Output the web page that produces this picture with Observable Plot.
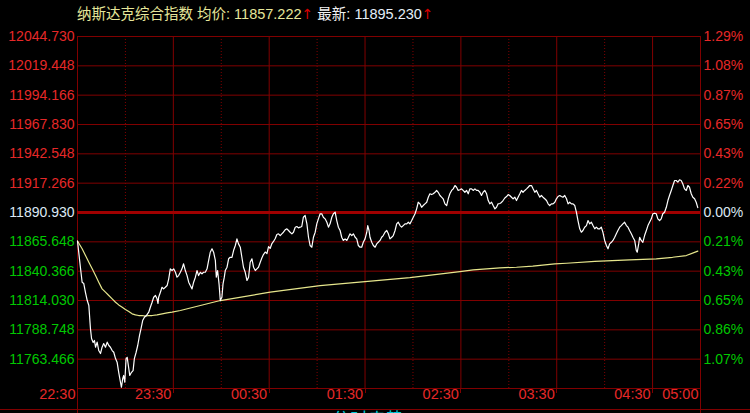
<!DOCTYPE html>
<html>
<head>
<meta charset="utf-8">
<script src="https://cdn.jsdelivr.net/npm/d3@7"></script>
<script src="https://cdn.jsdelivr.net/npm/@observablehq/plot@0.6"></script>
<style>
html,body{margin:0;padding:0;background:#000;}
#wrap{position:relative;width:750px;height:413px;overflow:hidden;background:#000;}
#title{position:absolute;left:77px;top:4px;font-family:"Liberation Sans","Noto Sans CJK SC",sans-serif;font-size:14.5px;line-height:20px;white-space:nowrap;}
#title .arr{font-family:"DejaVu Sans";font-size:14px;color:#d80000;}
#foot{position:absolute;left:332px;top:407px;color:#00c8d8;font-family:"Noto Sans CJK SC";font-size:18px;line-height:22px;white-space:nowrap;}
</style>
</head>
<body>
<div id="wrap">
  <div id="chart"></div>
  <div id="title"></div>
  <div id="foot"></div>
</div>
<script>
// ---------- data ----------
const indexName = "纳斯达克综合指数";
const avgLabel = "均价";
const lastLabel = "最新";
const avgValue = "11857.222";
const lastValue = "11895.230";
const footText = "分时走势";

const prevClose = 11890.930;
const topPrice = 12044.730;

const leftLabels = ["12044.730","12019.448","11994.166","11967.830","11942.548","11917.266",
  "11890.930","11865.648","11840.366","11814.030","11788.748","11763.466"];
const rightLabels = ["1.29%","1.08%","0.87%","0.65%","0.43%","0.22%",
  "0.00%","0.21%","0.43%","0.65%","0.86%","1.07%"];

// minutes after 22:30
const timeTicks = [0, 60, 120, 180, 240, 300, 360, 390];
const timeLabels = ["22:30","23:30","00:30","01:30","02:30","03:30","04:30","05:00"];
const hourDots = [30, 90, 150, 210, 270, 330];

const priceMinutes = [
0,1.9,2.9,3.9,5.0,6.1,7.1,8.1,8.8,9.8,
10.6,11.3,12.3,13.3,14.4,15.4,16.4,17.5,18.6,19.6,
20.6,21.7,22.7,23.8,24.8,25.8,26.9,27.5,28.3,28.9,
29.6,30.4,31.1,32.1,32.7,33.8,34.8,35.6,36.7,37.7,
38.8,39.8,40.8,41.9,43.1,44.6,45.6,46.7,47.7,48.8,
49.8,50.4,50.8,51.9,52.9,53.9,55.0,56.1,57.1,58.1,
59.2,60.2,61.3,62.3,63.3,64.4,65.4,66.4,67.5,68.6,
69.6,70.6,71.7,72.7,73.8,74.8,75.8,76.9,77.9,78.9,
80.0,81.1,82.1,83.1,84.2,85.2,86.3,86.9,87.7,88.6,
89.4,90.4,91.1,91.9,92.5,93.6,94.6,95.6,96.7,97.7,
98.8,99.8,100.8,101.9,102.9,103.9,105.0,106.1,107.1,108.1,
109.2,110.2,111.3,112.3,113.3,114.4,115.4,116.4,117.5,118.6,
119.6,120.6,121.7,122.7,123.8,124.8,125.8,126.9,127.9,128.9,
130.0,131.1,132.1,133.1,134.2,135.2,136.3,137.3,138.3,139.4,
140.4,141.4,142.5,143.6,144.6,145.6,146.7,147.7,148.8,149.8,
150.8,151.9,152.9,153.9,155.0,156.1,157.1,158.1,159.2,160.2,
161.3,162.3,163.3,164.4,165.4,166.4,167.5,168.6,169.6,170.6,
171.7,172.7,173.8,174.8,175.8,176.9,177.9,178.9,180.0,181.1,
181.7,182.5,183.1,184.2,185.2,186.3,187.3,188.3,189.4,190.4,
191.4,192.5,193.6,194.6,195.6,196.7,197.7,198.8,199.8,200.8,
201.9,202.9,203.9,205.0,206.1,207.1,208.1,209.2,210.2,211.3,
212.3,213.3,214.4,215.4,216.4,217.5,218.6,219.6,220.6,221.7,
222.7,223.8,224.8,225.8,226.9,227.9,228.9,230.0,231.1,232.1,
233.1,234.2,235.2,236.3,237.3,238.3,239.4,240.4,241.4,242.5,
243.6,244.6,245.6,246.7,247.7,248.8,249.8,250.8,251.9,252.9,
253.9,255.0,256.1,257.1,258.1,259.2,260.2,261.3,262.3,263.3,
264.4,265.4,266.4,267.5,268.6,269.6,270.6,271.7,272.7,273.8,
274.8,275.8,276.9,277.9,278.9,280.0,281.1,282.1,283.1,284.2,
285.2,286.3,287.3,288.3,289.4,290.4,291.4,292.5,293.6,294.6,
295.6,296.7,297.7,298.8,299.8,300.8,301.9,302.9,303.9,305.0,
306.1,307.1,308.1,309.2,310.2,311.3,312.3,313.3,314.4,315.4,
316.4,317.5,318.6,319.6,320.6,321.7,322.7,323.8,324.8,325.8,
326.9,327.9,328.9,330.0,331.1,332.1,333.1,334.2,335.2,336.3,
337.3,338.3,339.4,340.4,341.4,342.5,343.6,344.6,345.6,346.7,
347.7,348.8,349.8,350.4,351.3,351.9,352.9,353.9,355.0,356.1,
357.1,358.1,359.2,360.2,361.3,362.3,363.3,364.4,365.4,366.4,
367.5,368.6,369.6,370.6,371.7,372.7,373.8,374.8,375.8,376.9,
377.9,378.9,380.0,381.1,382.1,383.1,384.2,385.2,386.3,387.3,388.3];

const priceValues = [
11866.0,11842.0,11830.0,11828.9,11821.0,11814.0,11809.7,11789.6,11780.8,11777.3,
11779.1,11773.2,11777.6,11770.3,11767.7,11773.2,11776.4,11773.2,11777.6,11774.7,
11773.2,11770.3,11768.8,11763.3,11760.1,11751.3,11742.6,11738.2,11745.8,11748.5,
11742.6,11763.3,11764.4,11754.6,11748.5,11751.3,11752.8,11763.3,11768.8,11774.7,
11783.4,11789.6,11796.5,11799.4,11800.9,11803.8,11808.1,11812.5,11816.9,11818.4,
11815.5,11811.4,11816.9,11821.3,11825.6,11824.2,11825.6,11827.1,11833.0,11841.7,
11840.2,11841.7,11838.7,11834.4,11835.8,11838.7,11841.7,11846.1,11840.2,11835.8,
11830.0,11827.1,11824.2,11830.0,11834.4,11840.2,11835.8,11838.7,11837.3,11838.7,
11838.7,11841.7,11849.0,11856.2,11859.2,11856.2,11849.0,11834.4,11840.2,11828.6,
11814.0,11816.9,11828.6,11834.4,11840.2,11843.1,11850.5,11851.8,11851.8,11857.7,
11862.1,11867.9,11863.5,11860.6,11851.8,11843.1,11838.7,11831.5,11834.4,11847.5,
11850.5,11843.1,11840.2,11841.7,11843.1,11847.5,11851.1,11854.2,11856.4,11855.1,
11861.2,11859.5,11863.8,11865.6,11868.2,11871.7,11872.3,11870.8,11872.3,11873.7,
11875.8,11876.7,11875.2,11873.7,11872.3,11873.7,11878.1,11878.7,11877.5,11878.1,
11878.7,11886.8,11888.3,11881.0,11869.3,11862.1,11860.6,11869.3,11873.7,11881.0,
11885.4,11889.8,11889.8,11886.8,11885.4,11882.4,11878.1,11881.0,11886.8,11889.8,
11891.2,11883.9,11878.1,11875.2,11869.3,11866.5,11867.9,11866.5,11869.3,11872.3,
11870.8,11872.3,11869.3,11867.9,11862.1,11860.6,11860.6,11864.9,11867.9,11873.7,
11879.5,11875.2,11869.3,11864.9,11862.1,11860.6,11863.5,11864.9,11866.5,11869.3,
11870.8,11873.7,11875.2,11872.3,11867.9,11869.3,11870.8,11875.2,11881.0,11882.4,
11879.5,11878.1,11879.5,11881.0,11881.0,11882.4,11881.0,11883.9,11886.8,11889.8,
11894.1,11899.9,11898.5,11895.5,11897.0,11898.5,11899.9,11904.3,11907.3,11906.6,
11907.3,11908.6,11910.2,11908.6,11905.8,11904.3,11902.9,11898.5,11897.0,11902.9,
11907.3,11910.2,11911.6,11914.5,11913.0,11910.2,11910.8,11911.6,11910.2,11908.6,
11910.2,11907.3,11911.6,11911.6,11910.2,11911.6,11910.2,11910.2,11908.6,11905.8,
11908.6,11910.2,11907.3,11901.4,11898.5,11899.9,11897.0,11894.1,11895.5,11898.5,
11898.8,11899.7,11901.4,11903.6,11904.9,11906.6,11905.8,11904.3,11902.9,11904.3,
11901.4,11904.3,11907.3,11910.2,11908.6,11910.2,11911.6,11913.0,11914.5,11914.5,
11911.6,11908.6,11910.2,11907.3,11904.3,11905.8,11904.3,11902.9,11901.4,11898.5,
11897.0,11898.5,11898.5,11899.9,11902.9,11904.9,11905.8,11904.9,11904.3,11905.8,
11902.9,11898.5,11899.9,11898.5,11898.5,11897.0,11891.2,11883.9,11876.7,11873.7,
11875.2,11878.1,11879.5,11883.9,11881.0,11882.4,11879.5,11876.7,11878.1,11876.7,
11876.7,11878.1,11873.7,11866.5,11862.1,11859.2,11863.5,11864.9,11866.5,11869.3,
11872.3,11875.2,11878.1,11879.5,11881.0,11882.4,11879.5,11878.1,11875.2,11872.3,
11869.3,11866.5,11857.7,11856.2,11863.5,11869.3,11866.5,11864.9,11870.8,11875.2,
11879.5,11882.4,11885.4,11889.8,11890.3,11889.8,11885.4,11883.9,11885.4,11889.8,
11891.2,11895.5,11901.4,11905.8,11910.2,11914.5,11918.9,11918.9,11917.4,11919.5,
11918.9,11916.0,11911.6,11910.2,11914.5,11913.0,11907.3,11904.3,11902.9,11899.9,11895.23];

const avgMinutes = [0,2.9,5.0,7.1,9.2,11.3,13.3,15.4,17.5,19.6,21.7,23.8,25.8,28.0,30.0,
  32.1,34.2,36.3,38.3,40.4,42.5,44.6,46.7,49.8,53.0,56.1,59.2,64.4,89.4,120.6,151.9,
  180.0,208.1,239.4,247.7,264.4,274.8,285.0,298.8,306.1,323.8,345.6,362.3,372.5,381.1,388.3];
const avgValues = [11866.0,11859.2,11853.3,11847.5,11841.7,11835.8,11830.0,11824.2,11821.3,
  11818.4,11815.5,11812.5,11810.2,11808.1,11806.1,11804.4,11802.4,11801.5,11800.9,11800.9,
  11800.3,11800.9,11800.9,11801.5,11802.4,11803.2,11803.8,11805.3,11814.0,11821.3,11827.1,
  11830.6,11834.1,11839.3,11840.8,11842.6,11843.1,11844.0,11846.1,11846.6,11848.3,11849.6,
  11850.4,11851.8,11853.3,11857.22];

// ---------- styles ----------
const gridColor = "#800000";
const baseColor = "#a00000";
const upColor = "#e62828";
const downColor = "#00c800";
const flatColor = "#dce8f4";
const lineColor = "#ffffff";
const avgColor = "#e6e68c";

// ---------- build ----------
const step = (topPrice - prevClose) / 6;
const bottomPrice = prevClose - 6 * step;
const yTicks = leftLabels.map((s, i) => ({
  v: topPrice - i * step,
  left: s,
  right: rightLabels[i],
  color: i < 6 ? upColor : i === 6 ? flatColor : downColor
}));
const priceData = priceMinutes.map((m, i) => ({m, p: priceValues[i]}));
const avgData = avgMinutes.map((m, i) => ({m, p: avgValues[i]}));
const timeData = timeTicks.map((t, i) => ({t, label: timeLabels[i]}));
const solidTimes = timeTicks.slice(1, -1);

function decor(index, scales, values, dimensions) {
  const {width, height, marginTop, marginBottom} = dimensions;
  const yb = height - marginBottom;
  const g = d3.create("svg:g").attr("stroke", gridColor).attr("fill", "none");
  for (const t of [timeTicks[0], timeTicks[timeTicks.length - 1]]) {
    const x = Math.round(scales.x(t)) + 0.5;
    g.append("line").attr("x1", x).attr("x2", x).attr("y1", marginTop).attr("y2", height);
  }
  for (const t of solidTimes) {
    const x = Math.round(scales.x(t)) + 0.5;
    g.append("line").attr("x1", x).attr("x2", x).attr("y1", yb).attr("y2", yb + 5);
  }
  g.append("line").attr("x1", 0).attr("x2", width).attr("y1", height - 3.5).attr("y2", height - 3.5);
  return g.node();
}

const chart = Plot.plot({
  width: 750,
  height: 413,
  marginLeft: 77,
  marginRight: 50,
  marginTop: 36,
  marginBottom: 25,
  style: {background: "#000", fontFamily: "'Liberation Sans', Arial, sans-serif", overflow: "visible"},
  x: {domain: [0, 390], axis: null},
  y: {domain: [bottomPrice, topPrice], axis: null},
  marks: [
    Plot.ruleY(yTicks.concat([{v: bottomPrice}]), {y: "v", stroke: gridColor, strokeWidth: 1}),
    Plot.ruleX(hourDots, {x: d => d, stroke: gridColor, strokeDasharray: "1,2", strokeWidth: 1}),
    Plot.ruleX(solidTimes, {x: d => d, stroke: gridColor, strokeWidth: 1}),
    decor,
    Plot.ruleY([prevClose], {y: d => d, stroke: baseColor, strokeWidth: 3}),
    Plot.line(avgData, {x: "m", y: "p", stroke: avgColor, strokeWidth: 1.2}),
    Plot.line(priceData, {x: "m", y: "p", stroke: lineColor, strokeWidth: 1.2}),
    Plot.text(yTicks, {x: 0, y: "v", text: "left", fill: "color", textAnchor: "end", dx: -3, fontSize: 14}),
    Plot.text(yTicks, {x: 390, y: "v", text: "right", fill: "color", textAnchor: "start", dx: 3, fontSize: 14}),
    Plot.text(timeData, {x: "t", frameAnchor: "bottom", text: "label", fill: upColor, textAnchor: "end", dx: -2, dy: 10, fontSize: 14.5})
  ]
});
document.getElementById("chart").appendChild(chart);

const title = document.getElementById("title");
title.innerHTML =
  `<span style="color:#e6e69a">${indexName} ${avgLabel}: ${avgValue}</span>` +
  `<span class="arr">↑</span> ` +
  `<span style="color:#f2f2f2">${lastLabel}: </span><span style="color:#e4eef8">${lastValue}</span>` +
  `<span class="arr">↑</span>`;
document.getElementById("foot").textContent = footText;
</script>
</body>
</html>
